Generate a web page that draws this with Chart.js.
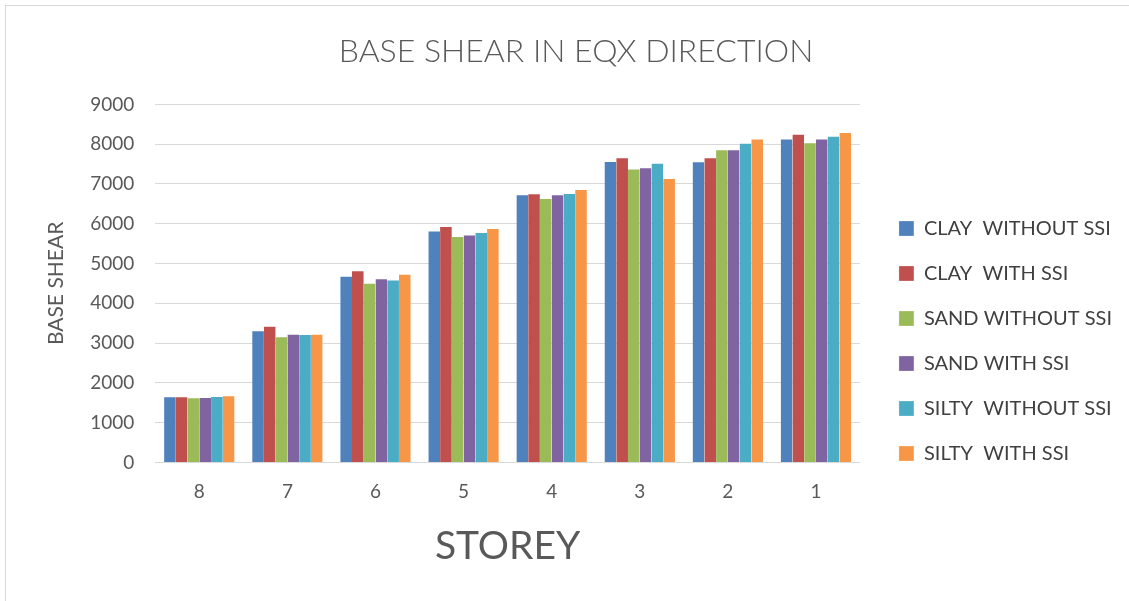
<!DOCTYPE html>
<html>
<head>
<meta charset="utf-8">
<script src="https://cdn.jsdelivr.net/npm/chart.js@4/dist/chart.umd.min.js"></script>
<style>
  html, body { margin: 0; padding: 0; background: #fff; }
  #wrap { position: absolute; left: 5px; top: 5px; width: 1124px; height: 596px;
          border: 1px solid #d9d9d9; border-right: none; border-bottom: none; box-sizing: border-box; }
</style>
</head>
<body>
<div id="wrap"><canvas id="shear"></canvas></div>
<script>
const storeys = ['8', '7', '6', '5', '4', '3', '2', '1'];

const clayWithout  = [1665, 3320, 4690, 5830, 6740, 7580, 7570, 8145];
const clayWith     = [1665, 3435, 4830, 5940, 6765, 7670, 7670, 8260];
const sandWithout  = [1640, 3170, 4515, 5690, 6650, 7390, 7875, 8050];
const sandWith     = [1645, 3235, 4630, 5730, 6740, 7420, 7875, 8145];
const siltyWithout = [1670, 3225, 4600, 5790, 6775, 7530, 8035, 8210];
const siltyWith    = [1690, 3235, 4740, 5890, 6875, 7150, 8145, 8305];

const seriesNames = ['CLAY  WITHOUT SSI', 'CLAY  WITH SSI', 'SAND WITHOUT SSI',
                     'SAND WITH SSI', 'SILTY  WITHOUT SSI', 'SILTY  WITH SSI'];
const seriesColors = ['#4f81bd', '#c0504d', '#9bbb59', '#8064a2', '#4bacc6', '#f79646'];
const seriesData = [clayWithout, clayWith, sandWithout, sandWith, siltyWithout, siltyWith];

const yTicks = [0, 1000, 2000, 3000, 4000, 5000, 6000, 7000, 8000, 9000];

const font = 'Lato, "Open Sans", sans-serif';
const grey = '#595959';

// push the legend a bit away from the plot and down
const legendNudge = {
    id: 'legendNudge',
    afterLayout(chart) {
        const lg = chart.legend;
        if (!lg) return;
        lg.left += 14; lg.right += 14;
        lg.top += 43; lg.bottom += 43;
    }
};

const ctx = document.getElementById('shear').getContext('2d');
let chart = new Chart(ctx, {
    type: 'bar',
    data: {
        labels: storeys,
        datasets: seriesData.map((d, i) => ({
            label: seriesNames[i],
            data: d,
            backgroundColor: seriesColors[i],
            borderColor: '#ffffff',
            borderWidth: { left: 0, right: 0, top: 1, bottom: 0 },
            categoryPercentage: 0.8,
            barPercentage: 1.0
        }))
    },
    options: {
        responsive: true,
        maintainAspectRatio: false,
        animation: false,
        layout: { padding: { left: 38, right: 21, top: 20, bottom: 31 } },
        plugins: {
            title: {
                display: true,
                text: 'BASE SHEAR IN EQX DIRECTION',
                color: grey,
                font: { family: font, size: 32, weight: '300' },
                padding: { top: 6, bottom: 34 }
            },
            legend: {
                position: 'right',
                align: 'center',
                labels: {
                    color: '#404040',
                    font: { family: font, size: 20 },
                    boxWidth: 15,
                    boxHeight: 15,
                    padding: 25
                }
            },
            tooltip: { enabled: false }
        },
        scales: {
            x: {
                grid: { display: false, drawTicks: false },
                border: { color: '#d9d9d9', width: 1 },
                ticks: { color: grey, font: { family: font, size: 19 }, padding: 18 },
                title: {
                    display: true,
                    text: 'STOREY',
                    color: grey,
                    font: { family: font, size: 39 },
                    padding: { top: 2, bottom: 0 }
                }
            },
            y: {
                min: 0,
                max: 9000,
                afterBuildTicks: (axis) => { axis.ticks = yTicks.map(v => ({ value: v })); },
                grid: { color: '#d9d9d9', lineWidth: 1, drawTicks: false },
                border: { display: false },
                ticks: {
                    color: grey,
                    font: { family: font, size: 19 },
                    padding: 21,
                    callback: (v) => String(v)
                },
                title: {
                    display: true,
                    text: 'BASE SHEAR',
                    color: grey,
                    font: { family: font, size: 21 },
                    padding: { top: 0, bottom: 0 }
                }
            }
        }
    },
    plugins: [legendNudge]
});
</script>
</body>
</html>
